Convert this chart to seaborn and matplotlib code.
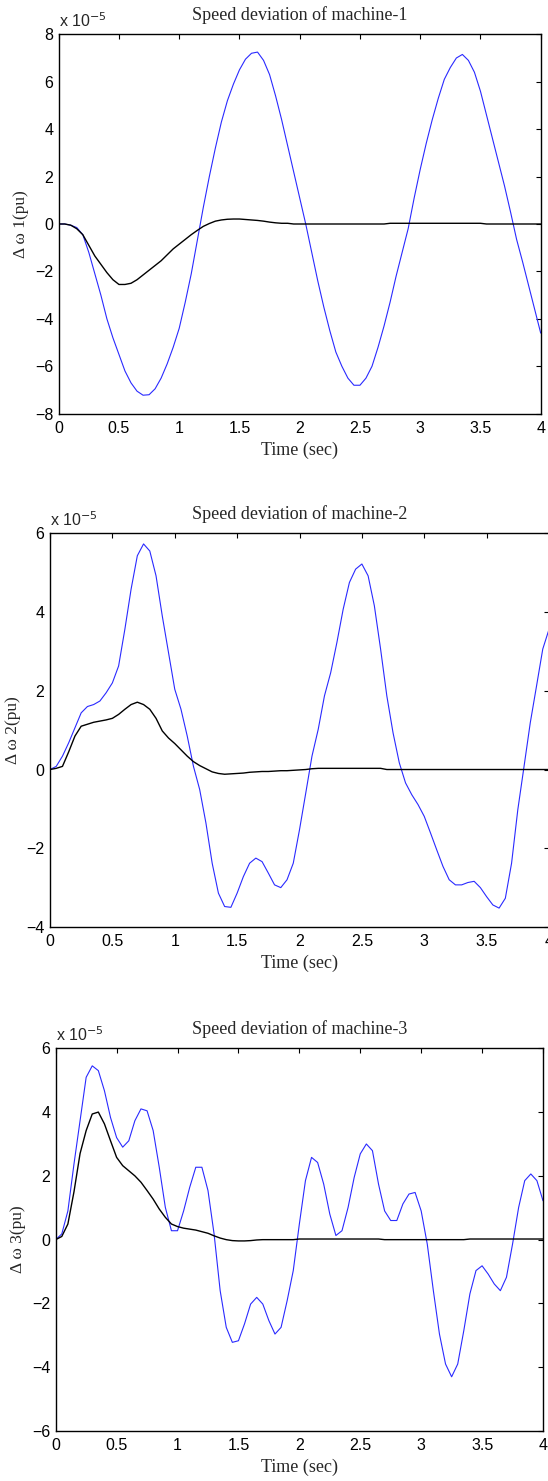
import numpy as np
import matplotlib
matplotlib.use("Agg")
import matplotlib.pyplot as plt
import seaborn as sns
from matplotlib.ticker import FuncFormatter, MultipleLocator

# time grid (sec)
time = np.linspace(0, 4, 81)

# speed deviations, in units of 1e-5 pu
m1_blue = [0.0, 0.0, -0.05, -0.15, -0.45, -1.2, -2.1, -3.0, -4.0, -4.8,
           -5.5, -6.2, -6.7, -7.05, -7.22, -7.2, -6.95, -6.5, -5.9, -5.2,
           -4.4, -3.3, -2.1, -0.7, 0.7, 2.0, 3.2, 4.3, 5.2, 5.9,
           6.5, 6.95, 7.2, 7.25, 6.9, 6.3, 5.4, 4.4, 3.3, 2.2,
           1.1, 0.0, -1.2, -2.4, -3.5, -4.5, -5.4, -6.0, -6.5, -6.8,
           -6.8, -6.5, -6.0, -5.2, -4.3, -3.3, -2.2, -1.2, -0.2, 1.1,
           2.3, 3.4, 4.4, 5.3, 6.1, 6.6, 7.0, 7.15, 6.9, 6.4,
           5.6, 4.6, 3.6, 2.6, 1.6, 0.5, -0.65, -1.6, -2.6, -3.6,
           -4.6]
m1_black = [0.0, 0.0, -0.05, -0.2, -0.45, -0.9, -1.35, -1.7, -2.05, -2.35,
            -2.55, -2.55, -2.5, -2.35, -2.15, -1.95, -1.75, -1.55, -1.3, -1.05,
            -0.85, -0.65, -0.45, -0.27, -0.1, 0.02, 0.12, 0.17, 0.2, 0.21,
            0.21, 0.19, 0.17, 0.15, 0.12, 0.08, 0.05, 0.03, 0.03, 0.0,
            0.0, 0.0, 0.0, 0.0, 0.0, 0.0, 0.0, 0.0, 0.0, 0.0,
            0.0, 0.0, 0.0, 0.0, 0.0, 0.03, 0.03, 0.03, 0.03, 0.03,
            0.03, 0.03, 0.03, 0.03, 0.03, 0.03, 0.03, 0.03, 0.03, 0.03,
            0.03, 0.0, 0.0, 0.0, 0.0, 0.0, 0.0, 0.0, 0.0, 0.0,
            0.0]

m2_blue = [0.0, 0.08, 0.34, 0.68, 1.06, 1.44, 1.6, 1.65, 1.74, 1.95,
           2.2, 2.63, 3.56, 4.58, 5.43, 5.73, 5.55, 4.92, 3.9, 2.97,
           2.04, 1.53, 0.85, 0.08, -0.51, -1.36, -2.38, -3.14, -3.48, -3.5,
           -3.14, -2.72, -2.38, -2.25, -2.34, -2.63, -2.93, -3.0, -2.8, -2.38,
           -1.53, -0.6, 0.34, 1.02, 1.87, 2.46, 3.23, 4.07, 4.75, 5.09,
           5.22, 4.92, 4.16, 3.06, 1.87, 0.93, 0.17, -0.34, -0.64, -0.89,
           -1.19, -1.61, -2.04, -2.46, -2.8, -2.93, -2.93, -2.87, -2.84, -3.0,
           -3.23, -3.44, -3.52, -3.27, -2.38, -1.02, 0.08, 1.19, 2.12, 3.06,
           3.56]
m2_black = [0.0, 0.03, 0.08, 0.45, 0.85, 1.1, 1.15, 1.2, 1.23, 1.26,
            1.3, 1.4, 1.53, 1.65, 1.71, 1.65, 1.53, 1.3, 0.98, 0.8,
            0.66, 0.5, 0.34, 0.2, 0.1, 0.02, -0.06, -0.1, -0.12, -0.11,
            -0.1, -0.09, -0.07, -0.06, -0.05, -0.05, -0.04, -0.03, -0.03, -0.02,
            -0.01, 0.0, 0.02, 0.03, 0.03, 0.03, 0.03, 0.03, 0.03, 0.03,
            0.03, 0.03, 0.03, 0.03, 0.0, 0.0, 0.0, 0.0, 0.0, 0.0,
            0.0, 0.0, 0.0, 0.0, 0.0, 0.0, 0.0, 0.0, 0.0, 0.0,
            0.0, 0.0, 0.0, 0.0, 0.0, 0.0, 0.0, 0.0, 0.0, 0.0,
            0.0]

m3_blue = [0.0, 0.18, 0.9, 2.37, 3.73, 5.09, 5.45, 5.3, 4.67, 3.83,
           3.2, 2.9, 3.1, 3.73, 4.1, 4.04, 3.42, 2.27, 1.01, 0.28,
           0.28, 0.9, 1.64, 2.27, 2.27, 1.54, 0.18, -1.6, -2.75, -3.22,
           -3.17, -2.64, -2.02, -1.81, -2.02, -2.54, -2.96, -2.75, -1.91, -0.97,
           0.49, 1.85, 2.58, 2.42, 1.74, 0.8, 0.13, 0.28, 1.01, 1.95,
           2.69, 3.0, 2.79, 1.74, 0.9, 0.6, 0.6, 1.12, 1.43, 1.48,
           0.9, -0.14, -1.6, -2.96, -3.9, -4.3, -3.9, -2.85, -1.7, -0.97,
           -0.82, -1.08, -1.39, -1.6, -1.18, -0.14, 1.01, 1.85, 2.06, 1.85,
           1.22]
m3_black = [0.0, 0.1, 0.49, 1.5, 2.7, 3.42, 3.94, 4.0, 3.63, 3.1,
            2.58, 2.32, 2.16, 2.0, 1.8, 1.54, 1.27, 0.96, 0.7, 0.49,
            0.41, 0.36, 0.33, 0.3, 0.25, 0.2, 0.12, 0.05, 0.0, -0.03,
            -0.04, -0.04, -0.03, -0.01, 0.0, 0.0, 0.0, 0.0, 0.0, 0.0,
            0.02, 0.02, 0.02, 0.02, 0.02, 0.02, 0.02, 0.02, 0.02, 0.02,
            0.02, 0.02, 0.02, 0.02, 0.0, 0.0, 0.0, 0.0, 0.0, 0.0,
            0.0, 0.0, 0.0, 0.0, 0.0, 0.0, 0.0, 0.0, 0.02, 0.02,
            0.02, 0.02, 0.02, 0.02, 0.02, 0.02, 0.02, 0.02, 0.02, 0.02,
            0.02]

titles = ["Speed deviation of machine-1", "Speed deviation of machine-2",
          "Speed deviation of machine-3"]
ylabels = ["\u0394 \u03c9 1(pu)", "\u0394 \u03c9 2(pu)", "\u0394 \u03c9 3(pu)"]
ylims = [(-8, 8), (-4, 6), (-6, 6)]
series = [(m1_blue, m1_black), (m2_blue, m2_black), (m3_blue, m3_black)]

sns.set_style("white")
plt.rcParams["font.family"] = ["Liberation Sans", "DejaVu Sans"]
plt.rcParams["xtick.direction"] = "in"
plt.rcParams["ytick.direction"] = "in"

W, H = 548, 1481
fig = plt.figure(figsize=(W / 100, H / 100), dpi=100)

# axes boxes in pixels: left, top, right, bottom
boxes = [(58.7, 34.3, 540.7, 413.7),
         (50.0, 533.3, 549.0, 927.0),
         (55.7, 1048.3, 543.0, 1431.0)]

serif = ["Liberation Serif", "DejaVu Serif"]

for i in range(3):
    l, t, r, b = boxes[i]
    ax = fig.add_axes([l / W, 1 - b / H, (r - l) / W, (b - t) / H])
    blue, black = series[i]
    sns.lineplot(x=time, y=np.array(blue), ax=ax, color="#2a2aff", linewidth=0.8)
    sns.lineplot(x=time, y=np.array(black), ax=ax, color="black", linewidth=1.0)
    ax.set_xlim(0, 4)
    ax.set_ylim(*ylims[i])
    ax.xaxis.set_major_locator(MultipleLocator(0.5))
    ax.yaxis.set_major_locator(MultipleLocator(2))
    ax.xaxis.set_major_formatter(FuncFormatter(lambda v, _: f"{v:g}"))
    ax.yaxis.set_major_formatter(
        FuncFormatter(lambda v, _: f"{v:g}".replace("-", "\u2212")))
    ax.tick_params(top=True, right=True, length=3.5, width=0.8,
                   labelsize=11.5, colors="black")
    ax.tick_params(axis="x", pad=5)
    ax.tick_params(axis="y", pad=4)
    for sp in ax.spines.values():
        sp.set_color("black")
        sp.set_linewidth(1.0)
    ax.set_title(titles[i], fontsize=13, family=serif, pad=10)
    ax.set_xlabel("Time (sec)", fontsize=13, family=serif, labelpad=4)
    ax.set_ylabel(ylabels[i], fontsize=12.5, family=serif, labelpad=4)
    ax.text(0.0, 1.012, "x 10$^{\u2212 5}$", transform=ax.transAxes,
            fontsize=11.5, ha="left", va="bottom")

fig.savefig("out.png", dpi=100, facecolor="white")
